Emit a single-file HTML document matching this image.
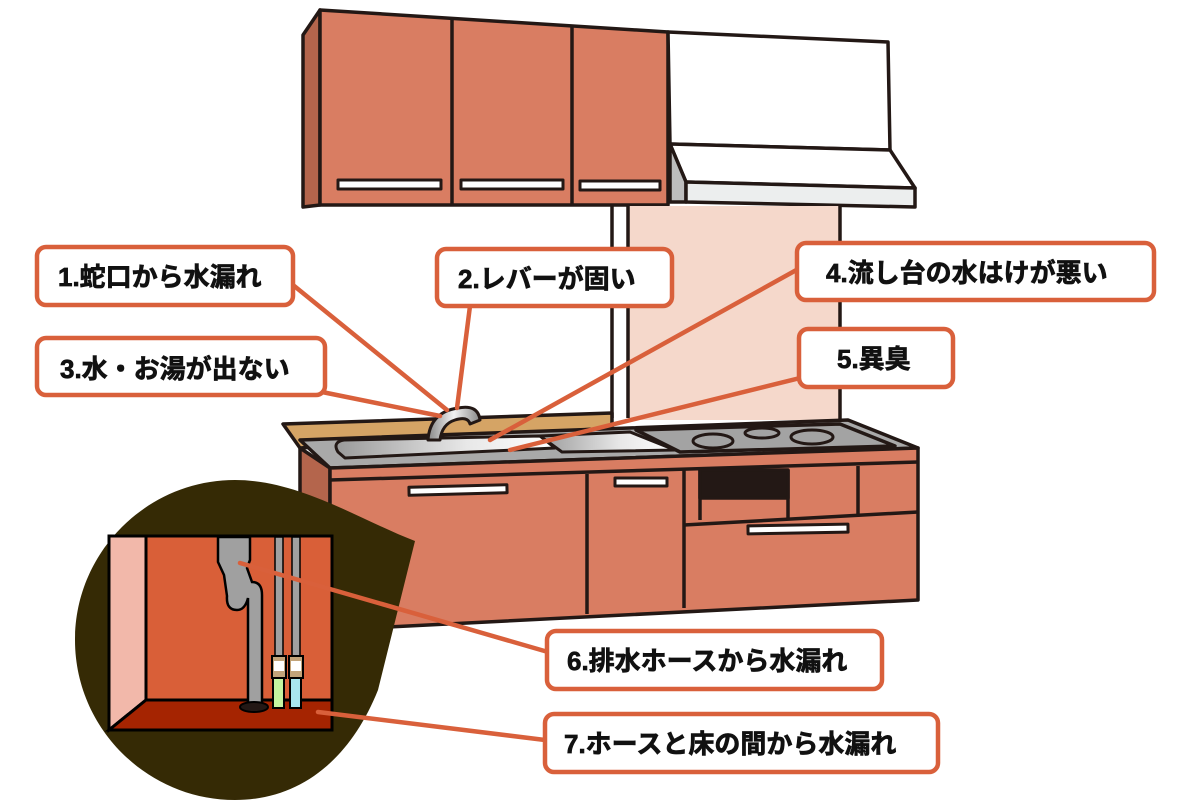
<!DOCTYPE html>
<html><head><meta charset="utf-8"><style>
html,body{margin:0;padding:0;background:#fff;}
svg{display:block}
text{font-family:"Liberation Sans","Noto Sans CJK JP",sans-serif;font-weight:bold;font-size:26px;fill:#111;stroke:#111;stroke-width:0.7px;}
</style></head><body>
<svg width="1200" height="800" viewBox="0 0 1200 800" xmlns="http://www.w3.org/2000/svg">
<defs>
<linearGradient id="sink" x1="0" x2="1"><stop offset="0" stop-color="#9a9a9a"/><stop offset="0.6" stop-color="#e8e8e8"/><stop offset="1" stop-color="#fff"/></linearGradient>
<linearGradient id="fau" x1="0" x2="1"><stop offset="0" stop-color="#888"/><stop offset="0.5" stop-color="#f2f2f2"/><stop offset="1" stop-color="#888"/></linearGradient>
</defs>
<g stroke="#231815" stroke-width="3.5" stroke-linejoin="round">
<polygon points="303,35 320,10 320,205 303,207" fill="#b4654c"/>
<polygon points="320,10 668,32 668,205 320,205" fill="#d97d62"/>
<line x1="452" y1="18" x2="452" y2="205"/>
<line x1="572" y1="25" x2="572" y2="205"/>
<rect x="338" y="180" width="103" height="9" fill="#fff" stroke-width="3"/>
<rect x="461" y="180" width="102" height="9" fill="#fff" stroke-width="3"/>
<rect x="580" y="181" width="80" height="9" fill="#fff" stroke-width="3"/>
<polygon points="668,32 888,42 890,150 670,144" fill="#fff"/>
<polygon points="670,144 890,150 915,188 686,182" fill="#fff"/>
<polygon points="670,144 686,182 686,202 670,202" fill="#bdbdbd"/>
<polygon points="686,182 915,188 915,207 686,202" fill="#eceeee"/>
<rect x="628" y="206" width="212" height="214" fill="#f5d8cb" stroke="none"/>
<line x1="612" y1="206" x2="612" y2="418"/>
<line x1="628" y1="206" x2="628" y2="418"/>
<line x1="840" y1="206" x2="840" y2="420"/>
<polygon points="283,424 612,413 612,428 300,448" fill="#d5a465"/>
<polygon points="300,440 848,420 918,448 330,468" fill="#a9a9a9"/>
<polygon points="636,430 840,424 895,446 680,452" fill="#a3a3a3"/>
<path d="M338,452 Q332,442 344,440 L540,436 L555,448 L345,458 Z" fill="url(#sink)" stroke-width="3"/>
<polygon points="540,436 630,432 675,450 562,452" fill="url(#sink)" stroke-width="3"/>
<ellipse cx="713" cy="441" rx="20" ry="7" fill="#a3a3a3" stroke-width="3"/>
<ellipse cx="762" cy="433" rx="17" ry="5" fill="#a3a3a3" stroke-width="3"/>
<ellipse cx="812" cy="437" rx="21" ry="7" fill="#a3a3a3" stroke-width="3"/>
<path d="M428,440 Q430,412 458,408 Q478,404 480,420 L470,424 Q468,416 455,420 Q442,424 440,440 Z" fill="url(#fau)" stroke-width="3"/>
<polygon points="300,448 330,468 330,630 300,605" fill="#b4654c"/>
<polygon points="330,468 918,448 918,600 330,630" fill="#d97d62"/>
<line x1="330" y1="480" x2="918" y2="462"/>
<line x1="587" y1="474" x2="587" y2="614"/>
<line x1="684" y1="470" x2="684" y2="608"/>
<line x1="684" y1="525" x2="918" y2="512"/>
<rect x="409" y="486" width="98" height="8" fill="#fff" stroke-width="3" transform="rotate(-1.5 458 490)"/>
<rect x="615" y="478" width="52" height="8" fill="#fff" stroke-width="3"/>
<rect x="748" y="525" width="100" height="8" fill="#fff" stroke-width="3" transform="rotate(-1 798 529)"/>
<rect x="700" y="470" width="88" height="28" fill="#231815"/>
<line x1="700" y1="470" x2="700" y2="520"/>
<line x1="788" y1="470" x2="788" y2="518"/>
<line x1="858" y1="466" x2="858" y2="514"/>
</g>
<path d="M235,480 C300,480 360,520 415,541 L378,690 C350,760 300,800 235,800 C147,800 75,728 75,640 C75,552 147,480 235,480 Z" fill="#352a05"/>
<g stroke="#000" stroke-width="3">
<rect x="109" y="536" width="223" height="194" fill="#d95f38"/>
<polygon points="109,536 146,536 146,700 109,730" fill="#f2b8aa"/>
<polygon points="146,700 332,700 332,730 109,730" fill="#a52401"/>
<path d="M218,537 L250,537 L250,560 L247,568 L252,582 Q262,582 262,595 L262,705 L248,705 L248,598 Q245,610 237,610 Q226,610 227,596 L224,575 L218,562 Z" fill="#a0a0a0" stroke-width="2.5"/>
<ellipse cx="254" cy="707" rx="14" ry="5" fill="#231815" stroke-width="2"/>
<rect x="275" y="537" width="8" height="119" fill="#a0a0a0" stroke-width="1.5"/>
<rect x="292" y="537" width="8" height="119" fill="#a0a0a0" stroke-width="1.5"/>
<rect x="272" y="656" width="14" height="22" fill="#c2a47a" stroke-width="2"/>
<rect x="274" y="661" width="10" height="10" fill="#fff" stroke="none"/>
<rect x="289" y="656" width="14" height="22" fill="#c2a47a" stroke-width="2"/>
<rect x="291" y="661" width="10" height="10" fill="#fff" stroke="none"/>
<rect x="273" y="678" width="11" height="30" fill="#c5f5a0" stroke-width="2"/>
<rect x="290" y="678" width="11" height="30" fill="#a8e6ee" stroke-width="2"/>
</g>
<g stroke="#d9603b" stroke-width="4.5" stroke-linecap="round">
<line x1="293" y1="285" x2="447" y2="410"/>
<line x1="470" y1="306" x2="457" y2="408"/>
<line x1="322" y1="392" x2="440" y2="416"/>
<line x1="800" y1="268" x2="490" y2="440"/>
<line x1="800" y1="378" x2="510" y2="450"/>
<line x1="548" y1="652" x2="240" y2="563"/>
<line x1="545" y1="740" x2="318" y2="712"/>
</g>
<g fill="#fff" stroke="#d9603b" stroke-width="4.5">
<rect x="37" y="247" width="256" height="58" rx="9"/>
<rect x="437" y="249" width="235" height="57" rx="9"/>
<rect x="37" y="338" width="288" height="57" rx="9"/>
<rect x="797" y="243" width="357" height="57" rx="9"/>
<rect x="799" y="329" width="154" height="58" rx="9"/>
<rect x="547" y="631" width="335" height="58" rx="9"/>
<rect x="545" y="714" width="393" height="58" rx="9"/>
</g>
<text x="58" y="286">1.蛇口から水漏れ</text>
<text x="458" y="288">2.レバーが固い</text>
<text x="60" y="378">3.水・お湯が出ない</text>
<text x="826" y="282">4.流し台の水はけが悪い</text>
<text x="837" y="368">5.異臭</text>
<text x="567" y="670">6.排水ホースから水漏れ</text>
<text x="564" y="753">7.ホースと床の間から水漏れ</text>
</svg>
</body></html>
